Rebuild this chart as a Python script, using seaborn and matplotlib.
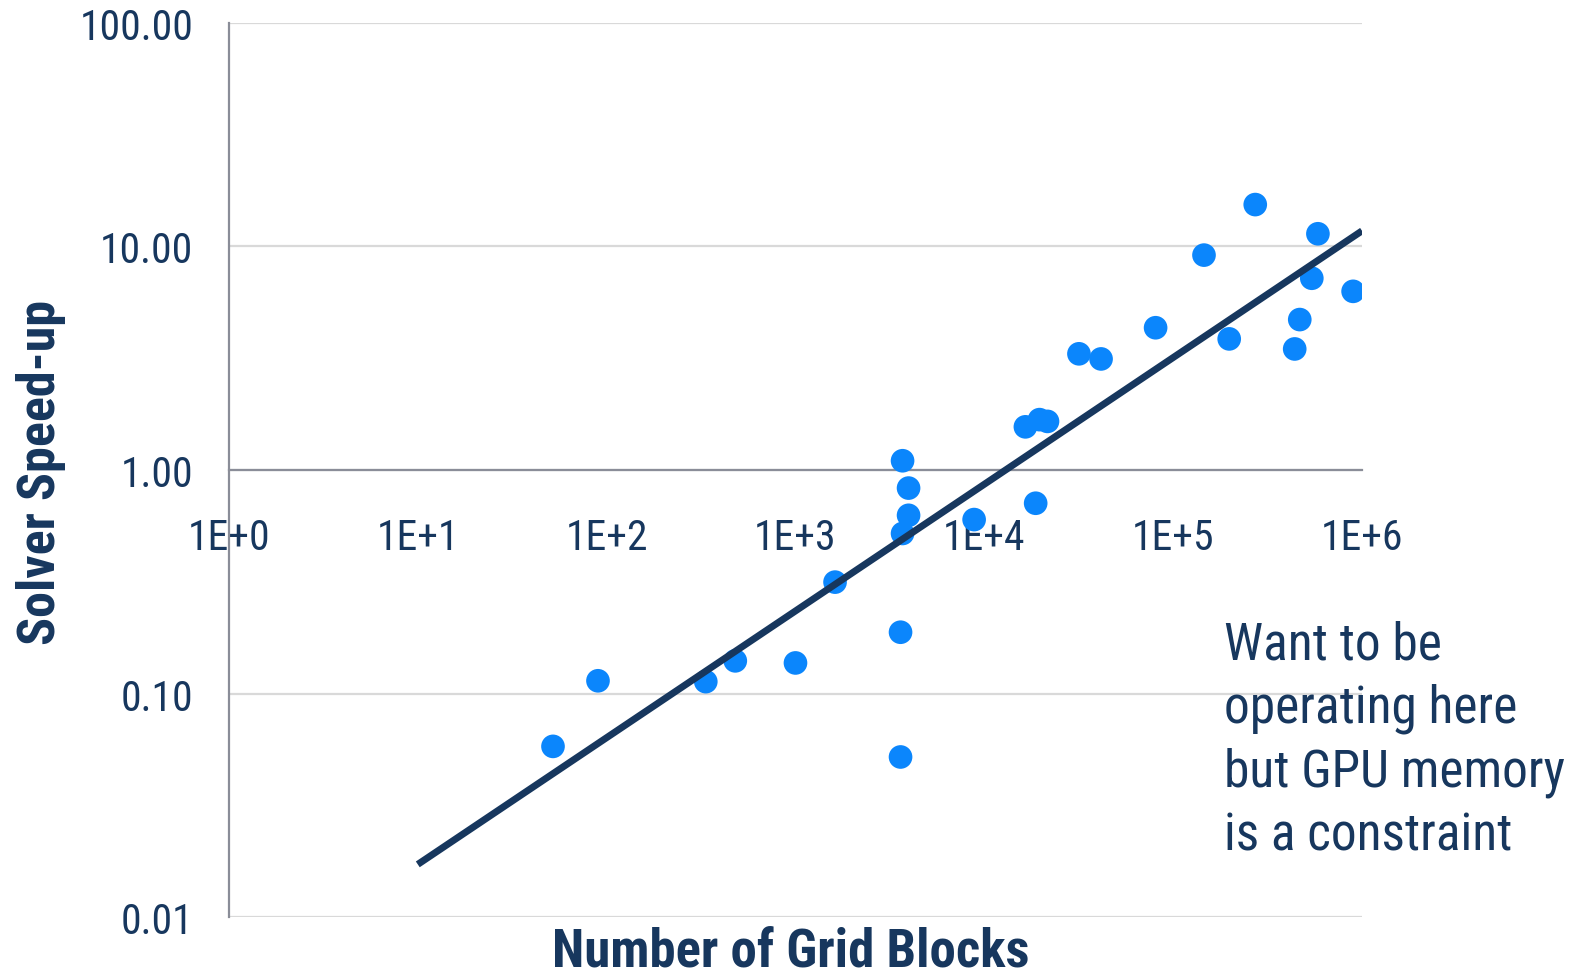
import matplotlib
matplotlib.use("Agg")
import matplotlib.pyplot as plt
import matplotlib.ticker as mticker
import seaborn as sns
import pandas as pd

# Measured solver speed-up against model size (number of grid blocks)
grid_blocks = [52, 90, 335, 480, 1000, 1620, 3600, 3600, 3690, 3970, 3970, 3690,
               8830, 16500, 19600, 21600, 18700, 31700, 41500, 80700, 145600,
               198000, 272000, 440000, 468000, 542000, 584000, 897000]
speedup = [0.058, 0.114, 0.113, 0.140, 0.137, 0.315, 0.188, 0.052, 1.10, 0.83,
           0.627, 0.52, 0.60, 1.56, 1.68, 1.65, 0.71, 3.31, 3.14, 4.33, 9.15,
           3.86, 15.4, 3.48, 4.71, 7.21, 11.4, 6.30]

# Power-law trend line end points
trend_x = [10, 1e6]
trend_y = [0.0172, 11.75]

x_ticks = [1, 10, 100, 1e3, 1e4, 1e5, 1e6]
x_tick_labels = ["1E+0", "1E+1", "1E+2", "1E+3", "1E+4", "1E+5", "1E+6"]
y_ticks = [0.01, 0.1, 1, 10, 100]
y_tick_labels = ["0.01", "0.10", "1.00", "10.00", "100.00"]

NAVY = "#17375E"
DOT = "#0B86FC"
AXIS_GREY = "#8A8D98"
GRID_GREY = "#D9D9D9"

sns.set_style("white")
plt.rcParams["font.family"] = ["Roboto Condensed", "Archivo Narrow", "Liberation Sans", "DejaVu Sans"]

fig = plt.figure(figsize=(15.81, 9.79), dpi=100)
ax = fig.add_axes([0.1448, 0.0623, 0.8615 - 0.1448, 0.9755 - 0.0623])

points = pd.DataFrame({"blocks": grid_blocks, "speedup": speedup})
trend = pd.DataFrame({"blocks": trend_x, "speedup": trend_y})

sns.scatterplot(data=points, x="blocks", y="speedup", ax=ax, s=290,
                color=DOT, edgecolor="none", linewidth=0, zorder=3)
sns.lineplot(data=trend, x="blocks", y="speedup", ax=ax, color=NAVY,
             linewidth=5.0, zorder=4, solid_capstyle="butt")

ax.set_xscale("log")
ax.set_yscale("log")
ax.set_xlim(1, 1e6)
ax.set_ylim(0.01, 100)

ax.xaxis.set_major_locator(mticker.FixedLocator(x_ticks))
ax.xaxis.set_major_formatter(mticker.FixedFormatter(x_tick_labels))
ax.yaxis.set_major_locator(mticker.FixedLocator(y_ticks))
ax.yaxis.set_major_formatter(mticker.FixedFormatter(y_tick_labels))
ax.xaxis.set_minor_locator(mticker.NullLocator())
ax.yaxis.set_minor_locator(mticker.NullLocator())

# Horizontal grid only
ax.grid(axis="y", color=GRID_GREY, linewidth=1.6, zorder=0)
ax.grid(axis="x", visible=False)
ax.set_axisbelow(True)

# The x axis crosses at a speed-up of 1
ax.spines["bottom"].set_position(("data", 1))
for side in ("top", "right"):
    ax.spines[side].set_visible(False)
for side in ("left", "bottom"):
    ax.spines[side].set_color(AXIS_GREY)
    ax.spines[side].set_linewidth(1.6)
    ax.spines[side].set_zorder(2)

ax.tick_params(axis="both", which="major", direction="out", length=8.6,
               width=1.4, color=AXIS_GREY, labelcolor=NAVY, labelsize=30)
ax.tick_params(axis="y", pad=17)
ax.tick_params(axis="x", pad=25)

ax.set_xlabel("")
ax.set_ylabel("")
fig.text(0.5, 0.0276, "Number of Grid Blocks", ha="center", va="center",
         fontsize=38, fontweight="bold", color=NAVY)
fig.text(0.026, 0.517, "Solver Speed-up", ha="center", va="center",
         rotation=90, fontsize=37.5, fontweight="bold", color=NAVY)

fig.text(1224 / 1581, 1 - 620 / 979,
         "Want to be\noperating here\nbut GPU memory\nis a constraint",
         ha="left", va="top", fontsize=37, color=NAVY, linespacing=1.35)

fig.savefig("out.png", dpi=100, facecolor="white")
